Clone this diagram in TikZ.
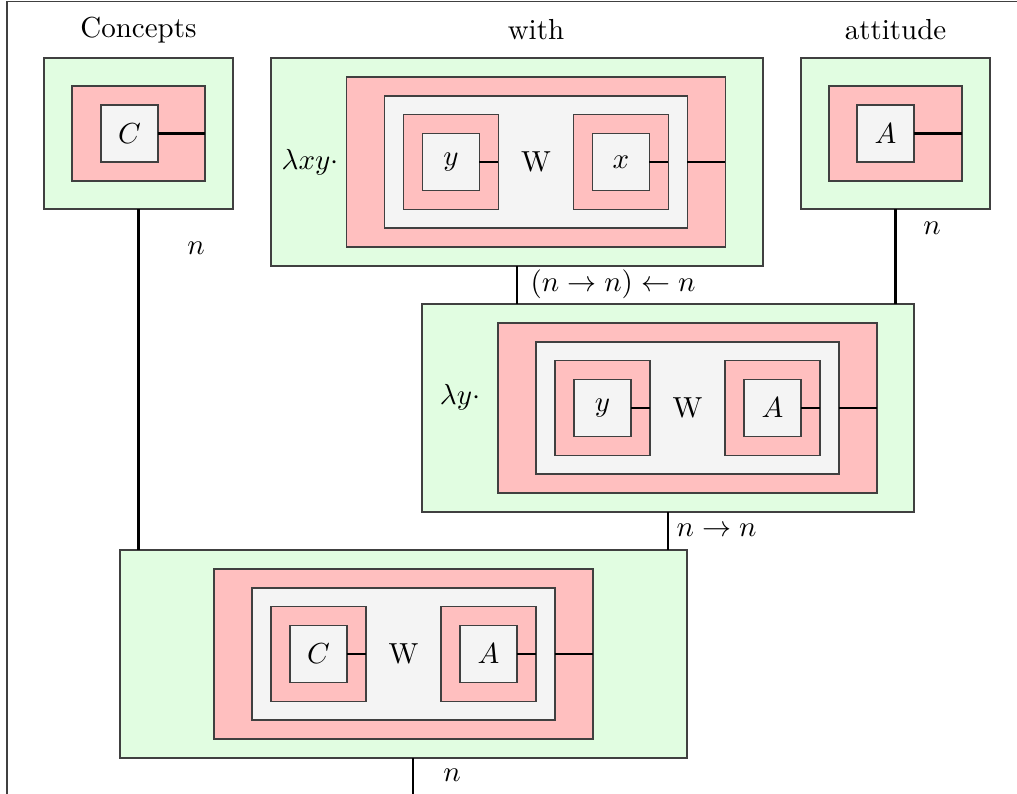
\documentclass[tikz,border=0pt]{standalone}
\usepackage{amssymb}
\usepackage{amsmath}
\usepackage{tikz}

\definecolor{boxgreen}{RGB}{225,253,225}
\definecolor{boxpink}{RGB}{255,191,191}
\definecolor{boxgrey}{RGB}{244,244,244}

\tikzset{
	box/.style={draw=black!75, line width=0.4pt, inner sep=0pt, outer sep=0pt},
	sz/.style 2 args={minimum width=#1*0.345pt, minimum height=#2*0.345pt},
	lam/.style={box, fill=boxgreen},
	pinkbox/.style={box, fill=boxpink},
	greybox/.style={box, fill=boxgrey},
	var/.style={greybox, sz={57}{57}},
	wire/.style={line width=0.8pt},
	lbl/.style={inner sep=0pt}
}

\begin{document}
\begin{tikzpicture}[x=0.345pt, y=-0.345pt]
		\useasboundingbox (0,0) rectangle (1017,794);
		\draw[black!75] (7,794) -- (7,1.5) -- (1017,1.5);

		\node (tc) at (138.5,30) {Concepts};
		\node (tw) at (536,30) {with};
		\node (ta) at (895.5,30) {attitude};

		\node[lam, sz={189}{151}] (cG) at (138.5,133.5) {};
		\node[pinkbox, sz={133}{95}] (cP) at (138.5,133.5) {};
		\node[var] (cV) at (129.5,133.5) {$C$};
		\draw[wire] (cV.east) -- (cP.east);

		\node[lam, sz={189}{151}] (aG) at (895.5,133.5) {};
		\node[pinkbox, sz={133}{95}] (aP) at (895.5,133.5) {};
		\node[var] (aV) at (885.5,133.5) {$A$};
		\draw[wire] (aV.east) -- (aP.east);

		\node[lam, sz={492}{208}] (wG) at (517,162) {};
		\node[lam, sz={492}{208}] (yG) at (668,408) {};
		\node[lam, sz={567}{208}] (bG) at (403.5,654) {};
		\node (wlam) at (310,162) {$\lambda xy\cdot$};
		\node (ylam) at (460,397) {$\lambda y\cdot$};

		\foreach \n/\cx/\cy/\lv/\rv in {w/536/162/y/x, y/687.5/408/y/A, b/403.5/654/C/A} {
			\node[pinkbox, sz={379}{170}] (\n-P) at (\cx,\cy) {};
			\node[greybox, sz={303}{132}] (\n-B) at (\cx,\cy) {};
			\node[pinkbox, sz={95}{95}] (\n-LP) at (\cx-85,\cy) {};
			\node[var] (\n-L) at (\cx-85,\cy) {$\lv$};
			\node[pinkbox, sz={95}{95}] (\n-RP) at (\cx+85,\cy) {};
			\node[var] (\n-R) at (\cx+85,\cy) {$\rv$};
			\node (\n-W) at (\cx,\cy) {W};
			\draw[wire] (\n-L.east) -- (\n-LP.east);
			\draw[wire] (\n-R.east) -- (\n-RP.east);
			\draw[wire] (\n-B.east) -- (\n-P.east);
		}

		\draw[wire] (cG.south) -- (cG.south |- bG.north);
		\draw[wire] (wG.south) -- (wG.south |- yG.north);
		\draw[wire] (aG.south) -- (aG.south |- yG.north);
		\draw[wire] (yG.south) -- (yG.south |- bG.north);
		\coordinate (out) at (413,800);
		\draw[wire] (out |- bG.south) -- (out);

		\node[lbl] (nc) at (196,248) {$n$};
		\node[lbl, anchor=west] (nw) at (530,284) {$(n\to n)\leftarrow n$};
		\node[lbl] (na) at (932,228) {$n$};
		\node[lbl, anchor=west] (ny) at (676,530) {$n\to n$};
		\node[lbl] (nb) at (452,775) {$n$};
\end{tikzpicture}
\end{document}
